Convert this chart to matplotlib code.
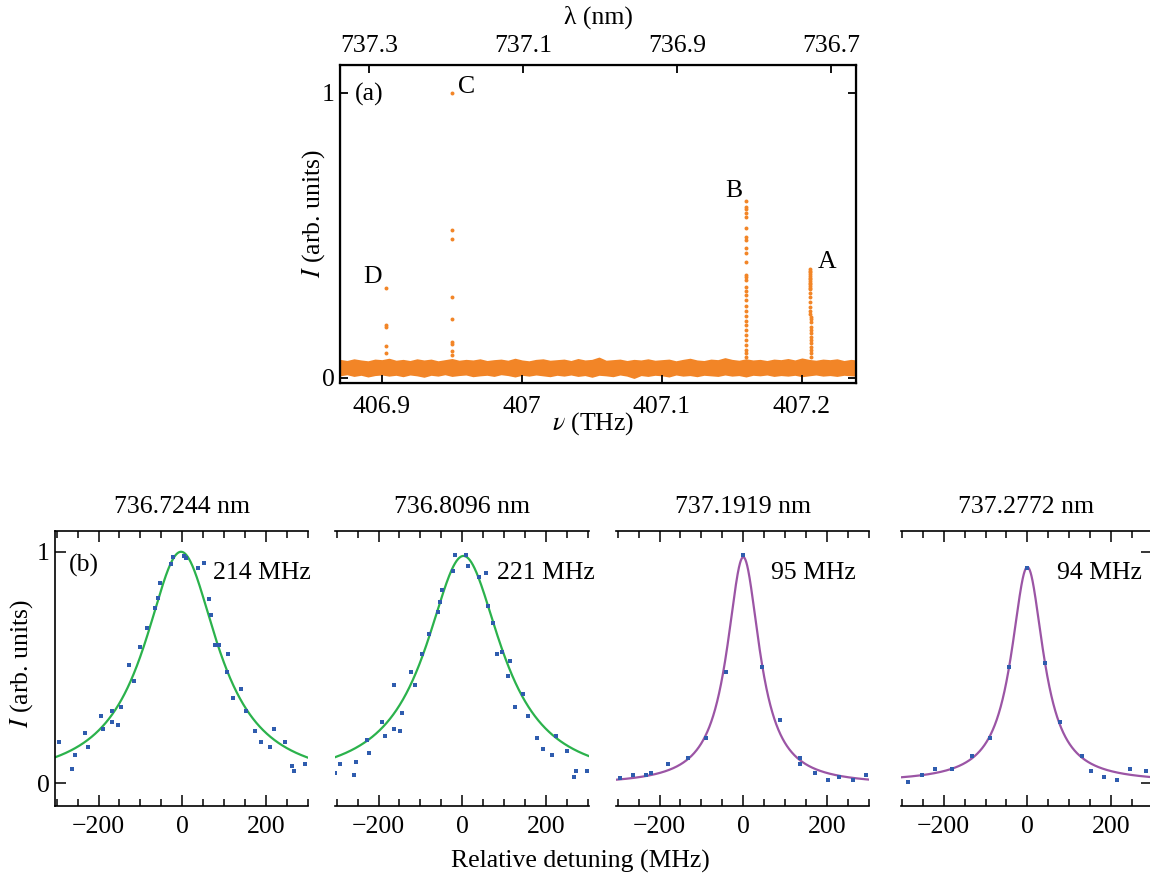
import matplotlib
matplotlib.use('Agg')
import matplotlib.pyplot as plt
import numpy as np
from matplotlib.ticker import FixedLocator, MultipleLocator

plt.rcParams['font.family'] = ['Liberation Serif', 'DejaVu Serif']
plt.rcParams['mathtext.fontset'] = 'stix'
plt.rcParams['font.size'] = 18.5
plt.rcParams['axes.unicode_minus'] = True

# ---------------- data: panel (a) ----------------
nu_ticks = [406.9, 407.0, 407.1, 407.2]
nu_ticklabels = ['406.9', '407', '407.1', '407.2']
lam_ticks = [737.3, 737.1, 736.9, 736.7]
lam_ticklabels = ['737.3', '737.1', '736.9', '736.7']

nu_D = 406.9028
peak_D_I = [0.315, 0.187, 0.178, 0.111, 0.088]
nu_C = 406.9497
peak_C_I = [1.0, 0.518, 0.488, 0.283, 0.207, 0.125, 0.119, 0.094, 0.080]
nu_B = 407.160
peak_B_I = [0.622, 0.601, 0.594, 0.578, 0.563, 0.525, 0.496, 0.484, 0.455, 0.438,
            0.408, 0.361, 0.353, 0.344, 0.320, 0.306, 0.291, 0.274, 0.253, 0.233,
            0.216, 0.198, 0.184, 0.169, 0.151, 0.133, 0.116, 0.098, 0.087, 0.075]
peak_A_nu = [407.2057] * 13 + [407.2060] * 6 + [407.2068] * 6 + [407.2064] * 7
peak_A_I = [0.381, 0.375, 0.370, 0.364, 0.358, 0.352, 0.346, 0.340, 0.334, 0.329,
            0.323, 0.317, 0.311, 0.297, 0.283, 0.268, 0.250, 0.236, 0.225, 0.215,
            0.206, 0.196, 0.180, 0.168, 0.157, 0.145, 0.133, 0.122, 0.110, 0.098,
            0.087, 0.075]

# baseline noise band (estimated envelope)
noise_nu = [406.870, 406.875, 406.880, 406.885, 406.890, 406.895, 406.900, 406.905,
            406.910, 406.915, 406.920, 406.925, 406.930, 406.935, 406.940, 406.945,
            406.950, 406.955, 406.960, 406.965, 406.970, 406.975, 406.980, 406.985,
            406.990, 406.995, 407.000, 407.005, 407.010, 407.015, 407.020, 407.025,
            407.030, 407.035, 407.040, 407.045, 407.050, 407.055, 407.060, 407.065,
            407.070, 407.075, 407.080, 407.085, 407.090, 407.095, 407.100, 407.105,
            407.110, 407.115, 407.120, 407.125, 407.130, 407.135, 407.140, 407.145,
            407.150, 407.155, 407.160, 407.165, 407.170, 407.175, 407.180, 407.185,
            407.190, 407.195, 407.200, 407.205, 407.210, 407.215, 407.220, 407.225,
            407.230, 407.235, 407.239]
noise_hi = [0.062, 0.058, 0.064, 0.060, 0.057, 0.063, 0.061, 0.066, 0.059, 0.062,
            0.058, 0.064, 0.060, 0.063, 0.057, 0.061, 0.065, 0.059, 0.062, 0.060,
            0.064, 0.058, 0.061, 0.063, 0.059, 0.066, 0.060, 0.057, 0.062, 0.064,
            0.059, 0.061, 0.063, 0.058, 0.065, 0.060, 0.062, 0.070, 0.059, 0.061,
            0.063, 0.058, 0.062, 0.060, 0.064, 0.059, 0.061, 0.063, 0.057, 0.062,
            0.066, 0.060, 0.058, 0.063, 0.061, 0.068, 0.062, 0.059, 0.064, 0.060,
            0.062, 0.058, 0.063, 0.061, 0.065, 0.060, 0.067, 0.062, 0.059, 0.063,
            0.061, 0.064, 0.058, 0.062, 0.060]
noise_lo = [0.010, 0.014, 0.008, 0.012, 0.006, 0.011, 0.013, 0.009, 0.012, 0.007,
            0.013, 0.010, 0.005, 0.012, 0.009, 0.014, 0.008, 0.011, 0.013, 0.007,
            0.010, 0.012, 0.008, 0.014, 0.011, 0.006, 0.012, 0.009, 0.013, 0.010,
            0.007, 0.012, 0.009, 0.013, 0.008, 0.011, 0.005, 0.012, 0.010, 0.007,
            0.013, 0.009, 0.001, 0.011, 0.008, 0.012, 0.010, 0.006, 0.013, 0.009,
            0.011, 0.007, 0.012, 0.010, 0.008, 0.013, 0.009, 0.011, 0.006, 0.012,
            0.010, 0.013, 0.008, 0.011, 0.009, 0.012, 0.007, 0.010, 0.013, 0.009,
            0.011, 0.008, 0.012, 0.010, 0.009]

# ---------------- data: panel (b) ----------------
titles = ['736.7244 nm', '736.8096 nm', '737.1919 nm', '737.2772 nm']
widths_text = ['214 MHz', '221 MHz', '95 MHz', '94 MHz']
text_x = [74, 83, 66, 71]

det1 = [-295, -263, -257, -232, -226, -195, -189, -168, -168, -153, -147, -127, -116,
        -100, -84, -64, -58, -53, -27, -22, 5, 10, 37, 52, 63, 68, 78, 88, 109, 106,
        122, 141, 152, 173, 188, 210, 220, 246, 262, 267, 293]
int1 = [0.178, 0.063, 0.121, 0.216, 0.158, 0.291, 0.235, 0.311, 0.263, 0.253, 0.328,
        0.509, 0.443, 0.587, 0.672, 0.758, 0.799, 0.863, 0.947, 0.976, 0.981, 0.974,
        0.928, 0.950, 0.794, 0.729, 0.596, 0.596, 0.558, 0.481, 0.367, 0.406, 0.311,
        0.224, 0.178, 0.158, 0.235, 0.178, 0.075, 0.055, 0.082]
det2 = [-305, -291, -259, -254, -227, -222, -191, -185, -164, -164, -148, -143, -123,
        -112, -96, -80, -59, -54, -48, -22, -17, 9, 14, 41, 57, 62, 73, 83, 94, 110,
        115, 125, 146, 157, 178, 194, 214, 225, 251, 267, 272, 299]
int2 = [0.043, 0.082, 0.035, 0.092, 0.187, 0.129, 0.263, 0.206, 0.424, 0.235, 0.224,
        0.302, 0.482, 0.424, 0.558, 0.643, 0.740, 0.784, 0.833, 0.919, 0.986, 0.986,
        0.938, 0.891, 0.909, 0.767, 0.691, 0.558, 0.567, 0.463, 0.529, 0.329, 0.387,
        0.292, 0.197, 0.150, 0.121, 0.206, 0.140, 0.026, 0.055, 0.055]
det3 = [-294, -263, -232, -221, -180, -132, -90, -42, 0, 45, 87, 135, 135, 171, 203,
        229, 261, 292]
int3 = [0.024, 0.035, 0.035, 0.043, 0.082, 0.111, 0.197, 0.482, 0.986, 0.501, 0.273,
        0.111, 0.082, 0.043, 0.016, 0.026, 0.016, 0.035]
det4 = [-285, -253, -221, -180, -132, -90, -43, 0, 41, 78, 131, 151, 183, 215, 246, 283]
int4 = [0.006, 0.035, 0.063, 0.063, 0.119, 0.197, 0.501, 0.928, 0.519, 0.263, 0.119,
        0.055, 0.026, 0.016, 0.063, 0.055]
detunings = [det1, det2, det3, det4]
intensities = [int1, int2, int3, int4]

# Lorentzian fit parameters (FWHM as labelled)
fit_center = [-3, 3, 0, 0]
fit_fwhm = [214, 221, 95, 94]
fit_amp = [1.0, 0.982, 0.985, 0.930]
fit_offset = [0.0, 0.0, -0.008, 0.004]
fit_colors = ['#2bb24c', '#2bb24c', '#9b55a5', '#9b55a5']

ORANGE = '#f28527'
BLUE = '#2f5cae'

W, H = 1150, 877
fig = plt.figure(figsize=(W / 100, H / 100), dpi=100)


def rect(x0, y0, x1, y1):
    return [x0 / W, 1 - y1 / H, (x1 - x0) / W, (y1 - y0) / H]


# ---------------- panel (a) ----------------
ax = fig.add_axes(rect(340, 65, 856, 383))
ax.fill_between(noise_nu, noise_lo, noise_hi, color=ORANGE, lw=1.2, edgecolor=ORANGE)
ax.scatter(np.full(len(peak_D_I), nu_D), peak_D_I, s=8, color=ORANGE, lw=0)
ax.scatter(np.full(len(peak_C_I), nu_C), peak_C_I, s=8, color=ORANGE, lw=0)
ax.scatter(np.full(len(peak_B_I), nu_B), peak_B_I, s=8, color=ORANGE, lw=0)
ax.scatter(peak_A_nu, peak_A_I, s=8, color=ORANGE, lw=0)
ax.set_xlim(406.870, 407.2386)
ax.set_ylim(-0.018, 1.098)
ax.xaxis.set_major_locator(FixedLocator(nu_ticks))
ax.set_xticklabels(nu_ticklabels)
ax.yaxis.set_major_locator(FixedLocator([0, 1]))
ax.set_yticklabels(['0', '1'])
ax.tick_params(axis='both', direction='in', length=6, width=1.3, right=True)
ax.tick_params(axis='x', pad=9.5)
ax.tick_params(axis='y', pad=4)
for s in ax.spines.values():
    s.set_linewidth(1.6)

ax2 = ax.twiny()
ax2.set_xlim(737.3377, 736.6675)
ax2.xaxis.set_major_locator(FixedLocator(lam_ticks))
ax2.set_xticklabels(lam_ticklabels)
ax2.tick_params(axis='x', direction='in', length=6, width=1.3, pad=6)

ax.text(406.8807, 0.972, '(a)', ha='left', va='baseline')
ax.text(406.9545, 0.999, 'C', ha='left', va='baseline')
ax.text(407.145, 0.635, 'B', ha='left', va='baseline')
ax.text(407.2114, 0.386, 'A', ha='left', va='baseline')
ax.text(406.8864, 0.333, 'D', ha='left', va='baseline')

fig.text(593 / W, 1 - 424 / H, r'$\nu$ (THz)', ha='center', va='center')
fig.text(598 / W, 1 - 17 / H, 'λ (nm)', ha='center', va='center')
fig.text(314 / W, 1 - 214 / H, r'$I$ (arb. units)', ha='center', va='center', rotation=90)

# ---------------- panel (b) ----------------
boxes = [(55, 308.3), (335, 589.3), (616, 869.3), (900.7, 1152)]
xlims = [(-304, 301), (-304, 303.6), (-304, 301), (-303, 298)]
xfit = np.linspace(-310, 310, 1201)
for i in range(4):
    x0, x1 = boxes[i]
    a = fig.add_axes(rect(x0, 530.7, x1, 806))
    yfit = fit_offset[i] + fit_amp[i] / (1 + ((xfit - fit_center[i]) / (fit_fwhm[i] / 2)) ** 2)
    a.plot(xfit, yfit, color=fit_colors[i], lw=1.6, zorder=2)
    a.scatter(detunings[i], intensities[i], s=7, marker='s', color=BLUE, lw=0, zorder=3)
    a.set_xlim(*xlims[i])
    a.set_ylim(-0.098, 1.091)
    a.xaxis.set_major_locator(FixedLocator([-200, 0, 200]))
    a.xaxis.set_minor_locator(MultipleLocator(50))
    a.tick_params(axis='x', which='major', direction='in', length=8, width=1.1,
                  top=True, bottom=True, pad=7)
    a.tick_params(axis='x', which='minor', direction='in', length=5, width=1.1,
                  top=True, bottom=True)
    a.spines['right'].set_visible(False)
    if i != 0:
        a.spines['left'].set_visible(False)
    for s in a.spines.values():
        s.set_linewidth(1.2)
    a.yaxis.set_major_locator(FixedLocator([0, 1]))
    if i == 0:
        a.set_yticklabels(['0', '1'])
        a.tick_params(axis='y', direction='in', length=8, width=1.1, left=True, right=False, pad=4)
    elif i == 3:
        a.tick_params(axis='y', direction='in', length=8, width=1.1, left=False, right=True,
                      labelleft=False, labelright=False)
    else:
        a.tick_params(axis='y', left=False, right=False, labelleft=False)
    a.set_title(titles[i], pad=12.5, fontsize=18.5)
    a.text(text_x[i], 0.882, widths_text[i], ha='left', va='baseline')
    if i == 0:
        a.text(-270, 0.915, '(b)', ha='left', va='baseline')

fig.text(22 / W, 1 - 664 / H, r'$I$ (arb. units)', ha='center', va='center', rotation=90)
fig.text(580 / W, 1 - 861 / H, 'Relative detuning (MHz)', ha='center', va='center')

fig.savefig('out.png', dpi=100)
